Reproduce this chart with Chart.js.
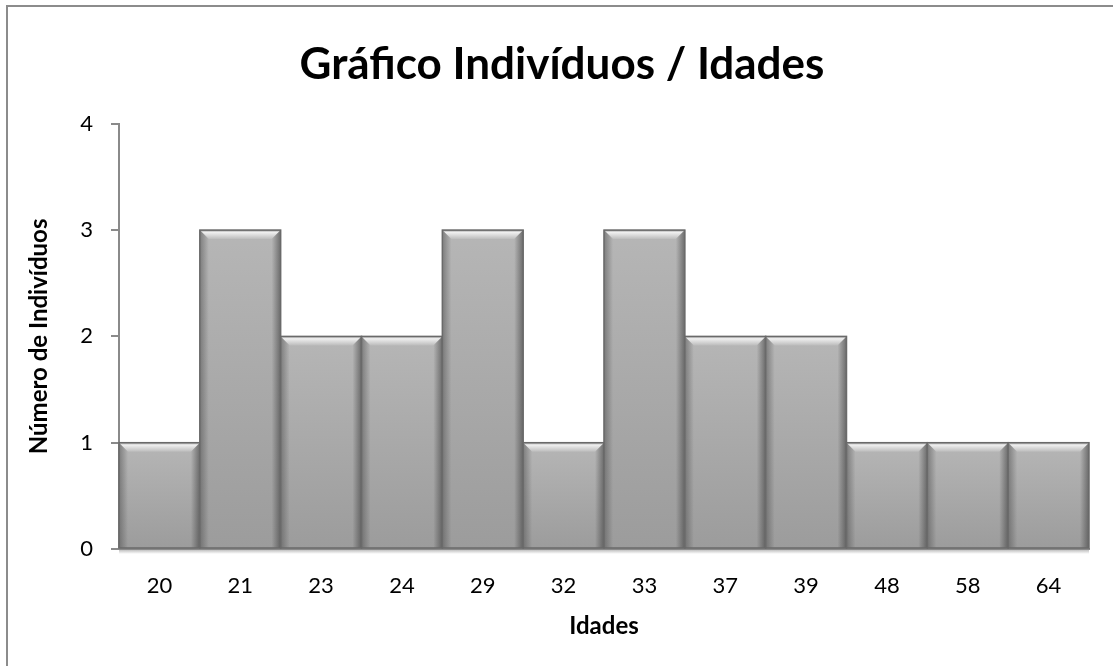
<!DOCTYPE html>
<html lang="pt">
<head>
  <meta charset="UTF-8">
  <title>Gráfico Indivíduos / Idades</title>
  <style>
    html, body {
      margin: 0;
      padding: 0;
      width: 1113px;
      height: 666px;
      overflow: hidden;
      background: #ffffff;
    }
    .frame {
      position: absolute;
      left: 6px;
      top: 5px;
      width: 1140px;
      height: 700px;
      border: 2px solid #8c8c8c;
      box-sizing: border-box;
    }
    .wrap {
      position: absolute;
      left: 0;
      top: 0;
      width: 1113px;
      height: 666px;
    }
  </style>
  <script src="https://cdn.jsdelivr.net/npm/chart.js"></script>
</head>
<body>
  <div class="frame"></div>
  <div class="wrap">
    <canvas id="ageChart" width="1113" height="666"></canvas>
  </div>

  <script>
    // data
    const ages = ['20', '21', '23', '24', '29', '32', '33', '37', '39', '48', '58', '64'];
    const counts = [1, 3, 2, 2, 3, 1, 3, 2, 2, 1, 1, 1];
    const yTicks = [0, 1, 2, 3, 4];

    const FONT = "Lato, 'Open Sans', sans-serif";

    // title in the original sits a bit right of the plot's centre
    const shiftTitle = {
      id: 'shiftTitle',
      afterLayout(chart) {
        if (chart.titleBlock) {
          chart.titleBlock.left = 35;
        }
      }
    };

    // bevelled grey bars, drawn on top of each bar element the library placed
    const bevelBars = {
      id: 'bevelBars',
      afterDatasetsDraw(chart) {
        const ctx = chart.ctx;
        const meta = chart.getDatasetMeta(0);
        meta.data.forEach(bar => {
          const left = bar.x - bar.width / 2;
          const right = bar.x + bar.width / 2;
          const top = bar.y;
          const bottom = bar.base;
          const w = right - left;
          const b = 9;

          ctx.save();
          // body
          let g = ctx.createLinearGradient(0, top, 0, bottom);
          g.addColorStop(0, '#b6b6b6');
          g.addColorStop(1, '#9c9c9c');
          ctx.fillStyle = g;
          ctx.fillRect(left, top, w, bottom - top);

          // side shading
          g = ctx.createLinearGradient(left, 0, left + b, 0);
          g.addColorStop(0, 'rgba(80,80,80,0.55)');
          g.addColorStop(1, 'rgba(80,80,80,0)');
          ctx.fillStyle = g;
          ctx.fillRect(left, top, b, bottom - top);
          g = ctx.createLinearGradient(right, 0, right - b, 0);
          g.addColorStop(0, 'rgba(60,60,60,0.6)');
          g.addColorStop(1, 'rgba(60,60,60,0)');
          ctx.fillStyle = g;
          ctx.fillRect(right - b, top, b, bottom - top);

          // top bevel
          g = ctx.createLinearGradient(0, top, 0, top + b);
          g.addColorStop(0, '#9a9a9a');
          g.addColorStop(0.25, '#f0f0f0');
          g.addColorStop(1, '#bcbcbc');
          ctx.fillStyle = g;
          ctx.beginPath();
          ctx.moveTo(left, top);
          ctx.lineTo(right, top);
          ctx.lineTo(right - b, top + b);
          ctx.lineTo(left + b, top + b);
          ctx.closePath();
          ctx.fill();

          // outline
          ctx.strokeStyle = '#6a6a6a';
          ctx.lineWidth = 1.5;
          ctx.strokeRect(left, top, w, bottom - top);
          ctx.restore();
        });

        // soft shadow under the base line
        const area = chart.chartArea;
        const g2 = ctx.createLinearGradient(0, area.bottom + 1, 0, area.bottom + 5);
        g2.addColorStop(0, 'rgba(120,120,120,0.45)');
        g2.addColorStop(1, 'rgba(120,120,120,0)');
        ctx.save();
        ctx.fillStyle = g2;
        ctx.fillRect(area.left, area.bottom + 1, area.right - area.left, 4);
        ctx.restore();
      }
    };

    const chartCtx = document.getElementById('ageChart').getContext('2d');

    const ageChart = new Chart(chartCtx, {
      type: 'bar',
      data: {
        labels: ages,
        datasets: [{
          label: 'Número de Indivíduos',
          data: counts,
          backgroundColor: '#aaaaaa',
          borderWidth: 0,
          barPercentage: 1.0,
          categoryPercentage: 1.0
        }]
      },
      plugins: [shiftTitle, bevelBars],
      options: {
        responsive: false,
        animation: false,
        layout: {
          padding: { left: 0, right: 24, top: 0, bottom: 0 }
        },
        plugins: {
          legend: { display: false },
          tooltip: { enabled: false },
          title: {
            display: true,
            text: 'Gráfico Indivíduos / Idades',
            color: '#000000',
            font: { family: FONT, size: 44, weight: 'bold' },
            padding: { top: 38, bottom: 33 }
          }
        },
        scales: {
          x: {
            grid: { display: false },
            border: { display: true, color: '#8a8a8a', width: 2 },
            ticks: {
              color: '#000000',
              font: { family: FONT, size: 22 },
              padding: 16
            },
            title: {
              display: true,
              text: 'Idades',
              color: '#000000',
              font: { family: FONT, size: 24, weight: 'bold' },
              padding: { top: 0, bottom: 25 }
            },
            afterFit(scale) { scale.height = 117; }
          },
          y: {
            min: 0,
            max: 4,
            afterBuildTicks(scale) {
              scale.ticks = yTicks.map(v => ({ value: v }));
            },
            grid: {
              drawOnChartArea: false,
              drawTicks: true,
              tickLength: 8,
              color: '#8a8a8a',
              lineWidth: 2
            },
            border: { display: true, color: '#8a8a8a', width: 2 },
            ticks: {
              color: '#000000',
              font: { family: FONT, size: 22 },
              padding: 18
            },
            title: {
              display: true,
              text: 'Número de Indivíduos',
              color: '#000000',
              font: { family: FONT, size: 24, weight: 'bold' },
              padding: { top: 25, bottom: 0 }
            },
            afterFit(scale) { scale.width = 119; }
          }
        }
      }
    });
  </script>
</body>
</html>
